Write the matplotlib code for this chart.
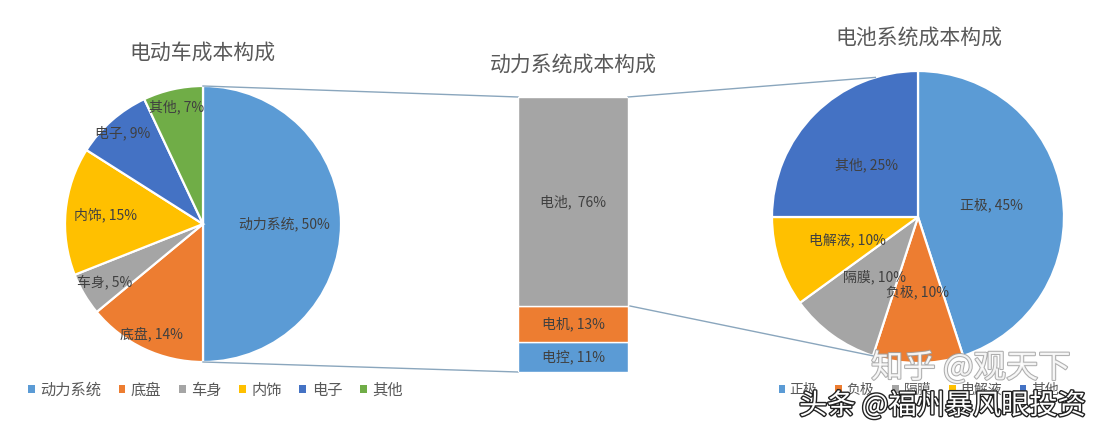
import numpy as np
import matplotlib
matplotlib.use("Agg")
import matplotlib.pyplot as plt
import matplotlib.patheffects as pe
from matplotlib.patches import Patch

plt.rcParams["font.family"] = ["Noto Sans CJK SC", "DejaVu Sans"]

# ---- data ----
car_parts = ["动力系统", "底盘", "车身", "内饰", "电子", "其他"]
car_share = [50, 14, 5, 15, 9, 7]

power_parts = ["电控", "电机", "电池"]          # stacked bottom -> top
power_share = [11, 13, 76]

battery_parts = ["正极", "负极", "隔膜", "电解液", "其他"]
battery_share = [45, 10, 10, 10, 25]

titles = ["电动车成本构成", "动力系统成本构成", "电池系统成本构成"]

# ---- style ----
BLUE, ORANGE, GRAY = "#5B9BD5", "#ED7D31", "#A5A5A5"
YELLOW, NAVY, GREEN = "#FFC000", "#4472C4", "#70AD47"
car_colors = [BLUE, ORANGE, GRAY, YELLOW, NAVY, GREEN]
power_colors = [BLUE, ORANGE, GRAY]
battery_colors = [BLUE, ORANGE, GRAY, YELLOW, NAVY]
TXT = "#404040"
TITLE = "#595959"
LINK = "#8AA6BD"

W, H = 1100, 432
fig = plt.figure(figsize=(W / 100, H / 100), dpi=100)
ax = fig.add_axes([0, 0, 1, 1])


def sy(y):
    """pixel row (top-down) -> axes y (bottom-up)"""
    return H - y


# layout in pixels
car_c, car_r = (203, 224), 138
bat_c, bat_r = (918, 217), 146
bar_left, bar_right, bar_top, bar_bottom = 518, 628, 97, 372
car_label_r = [0.59, 0.88, 0.83, 0.71, 0.88, 0.87]
bat_label_r = [0.51, 0.51, 0.51, 0.51, 0.50]


def draw_pie(values, names, colors, center, radius, label_r):
    wedges, _ = ax.pie(values, colors=colors, startangle=90, counterclock=False,
                       center=(center[0], sy(center[1])), radius=radius,
                       wedgeprops=dict(edgecolor="white", linewidth=1.6))
    for w, name, v, f in zip(wedges, names, values, label_r):
        mid = np.deg2rad((w.theta1 + w.theta2) / 2)
        x = center[0] + radius * f * np.cos(mid)
        y = sy(center[1]) + radius * f * np.sin(mid)
        ax.text(x, y, f"{name}, {v}%", ha="center", va="center",
                fontsize=10, color=TXT)


draw_pie(car_share, car_parts, car_colors, car_c, car_r, car_label_r)
draw_pie(battery_share, battery_parts, battery_colors, bat_c, bat_r, bat_label_r)

ax.set_xlim(0, W)
ax.set_ylim(0, H)
ax.set_aspect("equal")
ax.axis("off")

# ---- stacked bar for the power system ----
bax = fig.add_axes([bar_left / W, (H - bar_bottom) / H,
                    (bar_right - bar_left) / W, (bar_bottom - bar_top) / H])
bottoms = np.concatenate([[0], np.cumsum(power_share)[:-1]])
bax.bar(0, power_share, bottom=bottoms, width=1.0, color=power_colors,
        edgecolor="white", linewidth=1.0)
for b, v, name in zip(bottoms, power_share, power_parts):
    sep = ",  " if name == "电池" else ", "
    bax.text(0, b + v / 2, f"{name}{sep}{v}%", ha="center", va="center",
             fontsize=10, color=TXT)
bax.set_xlim(-0.5, 0.5)
bax.set_ylim(0, sum(power_share))
bax.axis("off")

# ---- connector lines ----
px_per_pct = (bar_bottom - bar_top) / sum(power_share)
battery_edge = bar_bottom - (power_share[0] + power_share[1]) * px_per_pct
ax.plot([car_c[0], bar_left], [sy(car_c[1] - car_r), sy(bar_top)], color=LINK, lw=1)
ax.plot([car_c[0], bar_left], [sy(car_c[1] + car_r), sy(bar_bottom)], color=LINK, lw=1)
a_top, a_bot = np.deg2rad(107), np.deg2rad(-108)
ax.plot([bar_right, bat_c[0] + bat_r * np.cos(a_top)],
        [sy(bar_top), sy(bat_c[1]) + bat_r * np.sin(a_top)], color=LINK, lw=1)
ax.plot([bar_right + 2, bat_c[0] + bat_r * np.cos(a_bot)],
        [sy(battery_edge), sy(bat_c[1]) + bat_r * np.sin(a_bot)], color=LINK, lw=1)

# ---- titles ----
for (x, y), t in zip([(202, 53), (573, 65), (919, 38)], titles):
    ax.text(x, sy(y), t, ha="center", va="center", fontsize=15, color=TITLE)

# ---- legends ----
car_handles = [Patch(facecolor=c, label=n) for c, n in zip(car_colors, car_parts)]
leg1 = ax.legend(handles=car_handles, loc="center left", ncol=6, frameon=False,
                 bbox_to_anchor=(14, sy(390)), bbox_transform=ax.transData,
                 fontsize=11, handlelength=0.45, handleheight=0.45,
                 handletextpad=0.35, columnspacing=1.15, labelcolor=TITLE)
ax.add_artist(leg1)
bat_handles = [Patch(facecolor=c, label=n) for c, n in zip(battery_colors, battery_parts)]
ax.legend(handles=bat_handles, loc="center left", ncol=5, frameon=False,
          bbox_to_anchor=(766, sy(390)), bbox_transform=ax.transData,
          fontsize=10, handlelength=0.45, handleheight=0.45,
          handletextpad=0.35, columnspacing=1.3, labelcolor=TITLE)

# ---- watermarks ----
fig.text(871 / W, 1 - 368 / H, "知乎 @观天下", fontsize=23.3, color="white", alpha=0.85,
         ha="left", va="center",
         path_effects=[pe.withStroke(linewidth=1.5, foreground="#a0a0a0")])
fig.text(799 / W, 1 - 406 / H, "头条 @福州暴风眼投资", fontsize=20.3, color="white",
         ha="left", va="center",
         path_effects=[pe.withStroke(linewidth=2.0, foreground="#222222")])

fig.savefig("out.png", dpi=100, facecolor="white")
